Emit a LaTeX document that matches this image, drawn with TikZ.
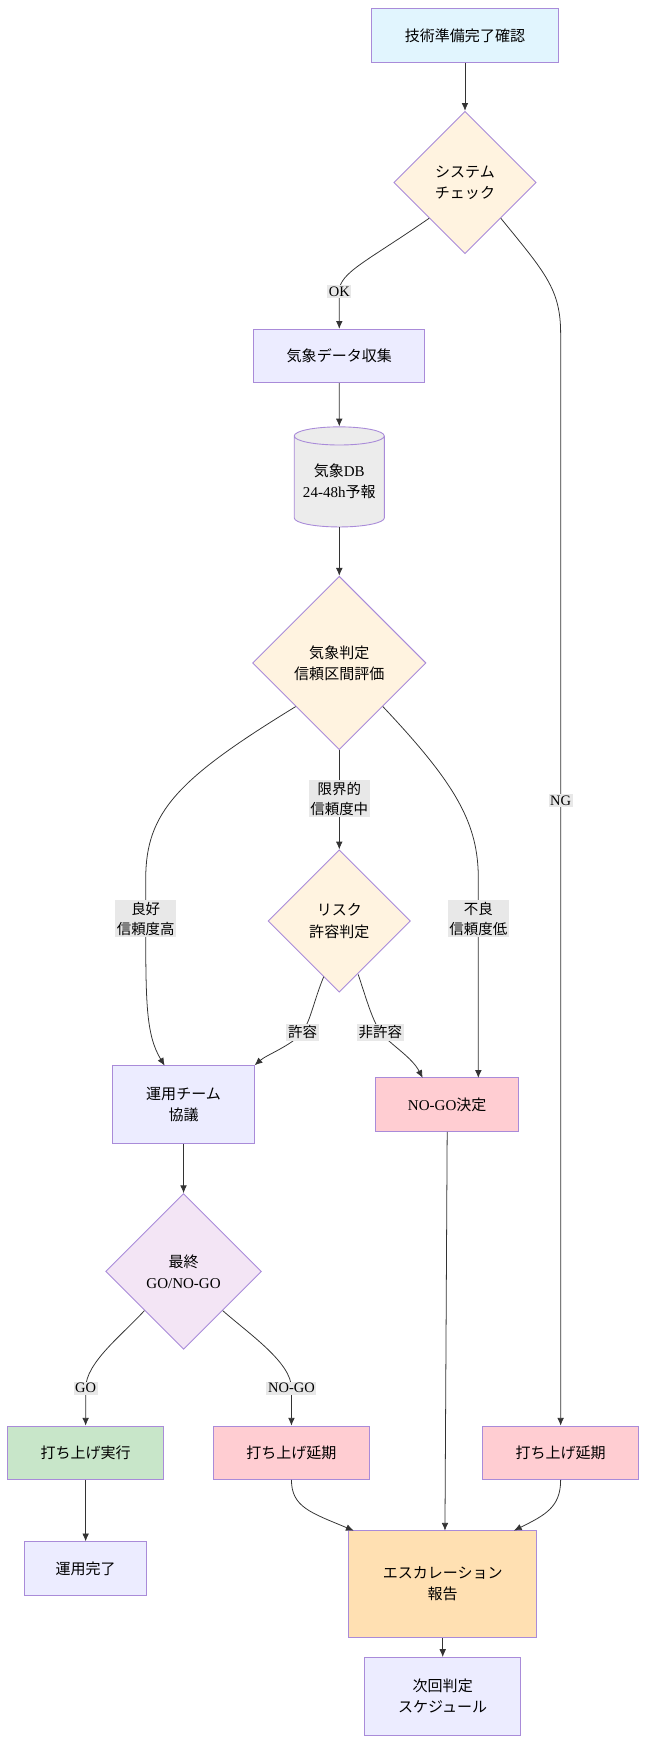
\documentclass[tikz,border=0pt]{standalone}
\usepackage{fontspec}
\setmainfont{Noto Sans CJK JP}
\newfontfamily\lat{Liberation Serif}
\usetikzlibrary{shapes.geometric,arrows.meta}
\definecolor{bd}{HTML}{A98BD9}
\definecolor{nodefill}{HTML}{ECECFF}
\definecolor{dia}{HTML}{FFF3E0}
\definecolor{lbl}{HTML}{E8E8E8}
\definecolor{gfill}{HTML}{C8E6C9}
\definecolor{pfill}{HTML}{FFCDD2}
\definecolor{ofill}{HTML}{FFE0B2}
\definecolor{bfill}{HTML}{E1F5FE}
\definecolor{vfill}{HTML}{F3E5F5}
\begin{document}
\begin{tikzpicture}[x=1pt,y=-1pt,
  every node/.style={font=\fontsize{13.5}{19}\selectfont, align=center},
  box/.style={draw=bd, line width=0.8pt, fill=nodefill, minimum height=#1, inner sep=0pt},
  box/.default=48pt,
  dmd/.style={draw=bd, line width=0.8pt, fill=dia, diamond, inner sep=0pt, minimum width=#1, minimum height=#1, aspect=1},
  lab/.style={fill=lbl, inner sep=1.5pt, font=\fontsize{13}{18}\selectfont},
  e/.style={draw=black!80, line width=0.7pt, -{Latex[length=7pt,width=6pt]}}]
\useasboundingbox (0,0) rectangle (582,1566);
\node[box, fill=bfill, minimum width=168pt] (start) at (418,32) {技術準備完了確認};
\node[dmd=128pt] (sys) at (418,164) {システム\\チェック};
\node[box, minimum width=154pt] (data) at (305,320) {気象データ収集};
\node[cylinder, shape border rotate=90, draw=bd, line width=0.8pt, fill=gray!15, minimum width=81pt, minimum height=90pt, aspect=0.25, inner sep=0pt] (db) at (305,433) {気象{\lat DB}\\{\lat 24-48h}予報};
\node[dmd=156pt] (wx) at (305,596) {気象判定\\信頼区間評価};
\node[dmd=128pt] (risk) at (305,828) {リスク\\許容判定};
\node[box=70pt, minimum width=127pt] (team) at (165,993) {運用チーム\\協議};
\node[box, fill=pfill, minimum width=129pt] (nogo) at (402,993) {{\lat NO-GO}決定};
\node[dmd=140pt, fill=vfill] (fin) at (165,1143) {最終\\{\lat GO/NO-GO}};
\node[box, fill=gfill, minimum width=140pt] (go) at (77,1306) {打ち上げ実行};
\node[box, fill=pfill, minimum width=140pt] (del1) at (262,1306) {打ち上げ延期};
\node[box, fill=pfill, minimum width=140pt] (del2) at (504,1306) {打ち上げ延期};
\node[box, minimum width=110pt] (done) at (77,1410) {運用完了};
\node[box=96pt, fill=ofill, minimum width=169pt] (esc) at (398,1424) {エスカレーション\\報告};
\node[box=70pt, minimum width=140pt] (next) at (398,1525) {次回判定\\スケジュール};

\coordinate (rl) at (291,878);
\coordinate (rr) at (322,876);
\draw[e] (start) -- (sys);
\draw[e] (sys.south west) .. controls (330,235) and (305,245) .. (305,262) node[lab, pos=1] {\lat OK} -- (data.north);
\draw[e] (sys.south east) .. controls (490,245) and (504,260) .. (504,300) -- (504,720) node[lab] {\lat NG} -- (del2.north);
\draw[e] (data) -- (db);
\draw[e] (db) -- (wx);
\draw[e] (wx.south west) .. controls (160,700) and (131,730) .. (131,790) -- (131,826) node[lab] {良好\\信頼度高} .. controls (131,900) and (131,930) .. (148,958);
\draw[e] (wx.south) -- (305,718) node[lab] {限界的\\信頼度中} -- (risk.north);
\draw[e] (wx.south east) .. controls (410,705) and (430,740) .. (430,790) -- (430,826) node[lab] {不良\\信頼度低} -- (430,969);
\draw[e] (rl) .. controls (282,900) and (280,915) .. (272,928) node[lab, pos=1] {許容} .. controls (262,940) and (240,948) .. (team.north east);
\draw[e] (rr) .. controls (330,900) and (334,915) .. (342,928) node[lab, pos=1] {非許容} .. controls (352,940) and (370,950) .. (380,969);
\draw[e] (team) -- (fin);
\draw[e] (fin.south west) .. controls (110,1200) and (77,1225) .. (77,1248) node[lab] {\lat GO} -- (go.north);
\draw[e] (fin.south east) .. controls (225,1200) and (262,1225) .. (262,1248) node[lab] {\lat NO-GO} -- (del1.north);
\draw[e] (go) -- (done);
\draw[e] (nogo.south) -- (400,1376);
\draw[e] (del1.south) .. controls (262,1355) and (280,1360) .. (318,1376);
\draw[e] (del2.south) .. controls (504,1355) and (490,1362) .. (462,1376);
\draw[e] (esc) -- (next);
\end{tikzpicture}
\end{document}
